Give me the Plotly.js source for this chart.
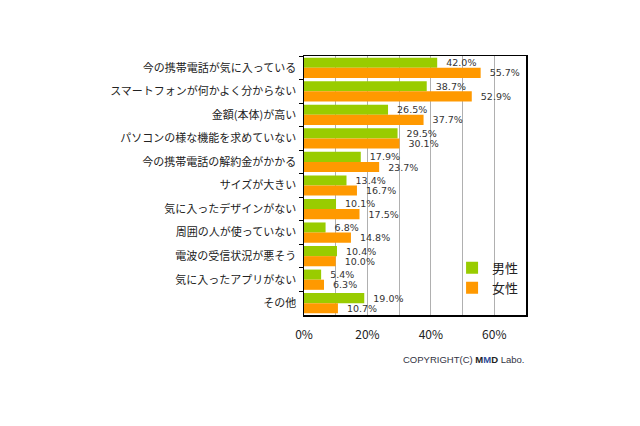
<!DOCTYPE html>
<html><head><meta charset="utf-8">
<script src="https://cdn.plot.ly/plotly-3.0.1.min.js"></script>
<style>html,body{margin:0;padding:0;background:#fff;}#c{width:640px;height:426px;}</style>
</head><body><div id="c"></div>
<script>
const categories = ["今の携帯電話が気に入っている","スマートフォンが何かよく分からない","金額(本体)が高い","パソコンの様な機能を求めていない","今の携帯電話の解約金がかかる","サイズが大きい","気に入ったデザインがない","周囲の人が使っていない","電波の受信状況が悪そう","気に入ったアプリがない","その他"];
const male = [42.0,38.7,26.5,29.5,17.9,13.4,10.1,6.8,10.4,5.4,19.0];
const female = [55.7,52.9,37.7,30.1,23.7,16.7,17.5,14.8,10.0,6.3,10.7];
const seriesNames = ["男性","女性"];
const tickVals = [0,10,20,30,40,50,60,70];
const tickText = ["0%","","20%","","40%","","60%",""];
const font = "'Noto Sans CJK JP', 'Noto Sans', sans-serif";
function mk(vals, name, color){
  return {type:'bar', orientation:'h', y:categories, x:vals, name:name,
    marker:{color:color},
    text:vals.map(v=>'  '+v.toFixed(1)+'%'), textposition:'outside', cliponaxis:false, constraintext:'none',
    textfont:{family:"'DejaVu Sans', sans-serif",size:9.5,color:'#333'}};
}
const data=[mk(male,seriesNames[0],'#99cc00'), mk(female,seriesNames[1],'#ff9900')];
const layout={width:640,height:426,margin:{l:304,r:114,t:56,b:111},
  paper_bgcolor:'#fff',plot_bgcolor:'#fff',barmode:'group',bargap:0.14,bargroupgap:0,
  font:{family:font,color:'#222'},showlegend:true,
  legend:{x:0.667,y:0.24,xanchor:'left',yanchor:'top',bgcolor:'rgba(0,0,0,0)',traceorder:'normal',
    font:{size:13,family:font,color:'#222'},itemwidth:30,tracegroupgap:6},
  xaxis:{range:[0,70],tickmode:'array',tickvals:tickVals,ticktext:tickText,showgrid:true,gridcolor:'#b0b0b0',gridwidth:1,
    showline:true,linecolor:'#000',linewidth:1.5,mirror:true,zeroline:false,ticks:'',ticklabelstandoff:8,
    tickfont:{size:12,family:font,color:'#222'},fixedrange:true},
  yaxis:{autorange:'reversed',type:'category',showline:true,linecolor:'#000',linewidth:1.5,mirror:true,
    ticks:'outside',ticklen:4,tickson:'boundaries',tickcolor:'#000',showgrid:false,
    tickfont:{size:11,family:font,color:'#222'},ticklabelstandoff:4},
  annotations:[{xref:'paper',yref:'paper',x:1,y:-0.143,xanchor:'right',yanchor:'top',showarrow:false,
    text:"<span style='color:#334'>COPYRIGHT(C) </span><b><span style='color:#222'>M</span><span style='color:#2a4c9a'>M</span><span style='color:#222'>D</span></b><span style='color:#334'> Labo.</span>",
    font:{size:9.5,family:"Arial, 'Liberation Sans', sans-serif"}}]
};
Plotly.newPlot('c',data,layout,{displayModeBar:false,staticPlot:true});
</script></body></html>
